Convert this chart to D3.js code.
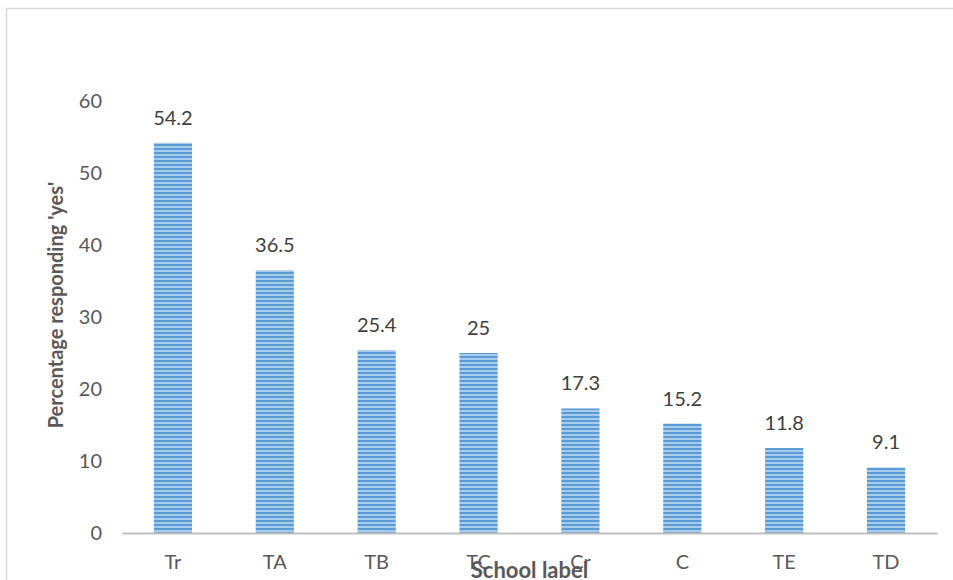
<!DOCTYPE html>
<html>
<head>
<meta charset="utf-8">
<script src="https://cdn.jsdelivr.net/npm/d3@7"></script>
<style>
  html, body { margin: 0; padding: 0; background: #fff; }
  svg { display: block; }
</style>
</head>
<body>
<svg id="chart" width="953" height="580"></svg>
<script>
// Share of pupils answering 'yes', by school
const schools = ["Tr", "TA", "TB", "TC", "Cr", "C", "TE", "TD"];
const percentYes = [54.2, 36.5, 25.4, 25, 17.3, 15.2, 11.8, 9.1];
const yTicks = [0, 10, 20, 30, 40, 50, 60];

const svg = d3.select("#chart");
const font = "Lato, 'Open Sans', sans-serif";

// outer chart frame
svg.append("rect")
  .attr("x", 6.5).attr("y", 8.5)
  .attr("width", 960).attr("height", 600)
  .attr("fill", "#fff")
  .attr("stroke", "#d9d9d9").attr("stroke-width", 1.5);

// striped bar fill
const defs = svg.append("defs");
const pat = defs.append("pattern")
  .attr("id", "stripes")
  .attr("patternUnits", "userSpaceOnUse")
  .attr("width", 8).attr("height", 4);
pat.append("rect").attr("width", 8).attr("height", 4).attr("fill", "#a9cbeb");
pat.append("rect").attr("y", 0).attr("width", 8).attr("height", 2).attr("fill", "#5b9bd5");

const plotLeft = 122, plotRight = 937, plotTop = 101, plotBottom = 533;

const x = d3.scaleBand().domain(schools).range([plotLeft, plotRight]).paddingInner(0.625).paddingOuter(0.3125);
const y = d3.scaleLinear().domain([0, 60]).range([plotBottom, plotTop]);

// y axis tick labels
const yAxis = svg.append("g")
  .attr("transform", `translate(${plotLeft},0)`)
  .call(d3.axisLeft(y).tickValues(yTicks).tickSize(0).tickPadding(20));
yAxis.select(".domain").remove();
yAxis.selectAll("text")
  .attr("font-family", font).attr("font-size", 20).attr("fill", "#595959");

// bars
svg.append("g").selectAll("rect")
  .data(schools)
  .join("rect")
  .attr("x", d => x(d))
  .attr("y", (d, i) => y(percentYes[i]))
  .attr("width", x.bandwidth())
  .attr("height", (d, i) => y(0) - y(percentYes[i]))
  .attr("fill", "url(#stripes)");

// value labels
svg.append("g").selectAll("text")
  .data(schools)
  .join("text")
  .attr("x", d => x(d) + x.bandwidth() / 2)
  .attr("y", (d, i) => y(percentYes[i]) - 18)
  .attr("text-anchor", "middle")
  .attr("font-family", font).attr("font-size", 20).attr("fill", "#404040")
  .text((d, i) => percentYes[i]);

// x axis
const xAxis = svg.append("g")
  .attr("transform", `translate(0,${plotBottom})`)
  .call(d3.axisBottom(x).tickSize(0).tickPadding(22));
xAxis.select(".domain")
  .attr("stroke", "#bfbfbf").attr("stroke-width", 2);
xAxis.selectAll("text")
  .attr("font-family", font).attr("font-size", 20).attr("fill", "#595959");

// axis titles
svg.append("text")
  .attr("x", (plotLeft + plotRight) / 2).attr("y", 578)
  .attr("text-anchor", "middle")
  .attr("font-family", font).attr("font-size", 22).attr("font-weight", "bold").attr("fill", "#595959")
  .text("School label");

svg.append("text")
  .attr("transform", `translate(63,305) rotate(-90)`)
  .attr("text-anchor", "middle")
  .attr("font-family", font).attr("font-size", 20).attr("font-weight", "bold").attr("fill", "#595959")
  .text("Percentage responding 'yes'");
</script>
</body>
</html>
